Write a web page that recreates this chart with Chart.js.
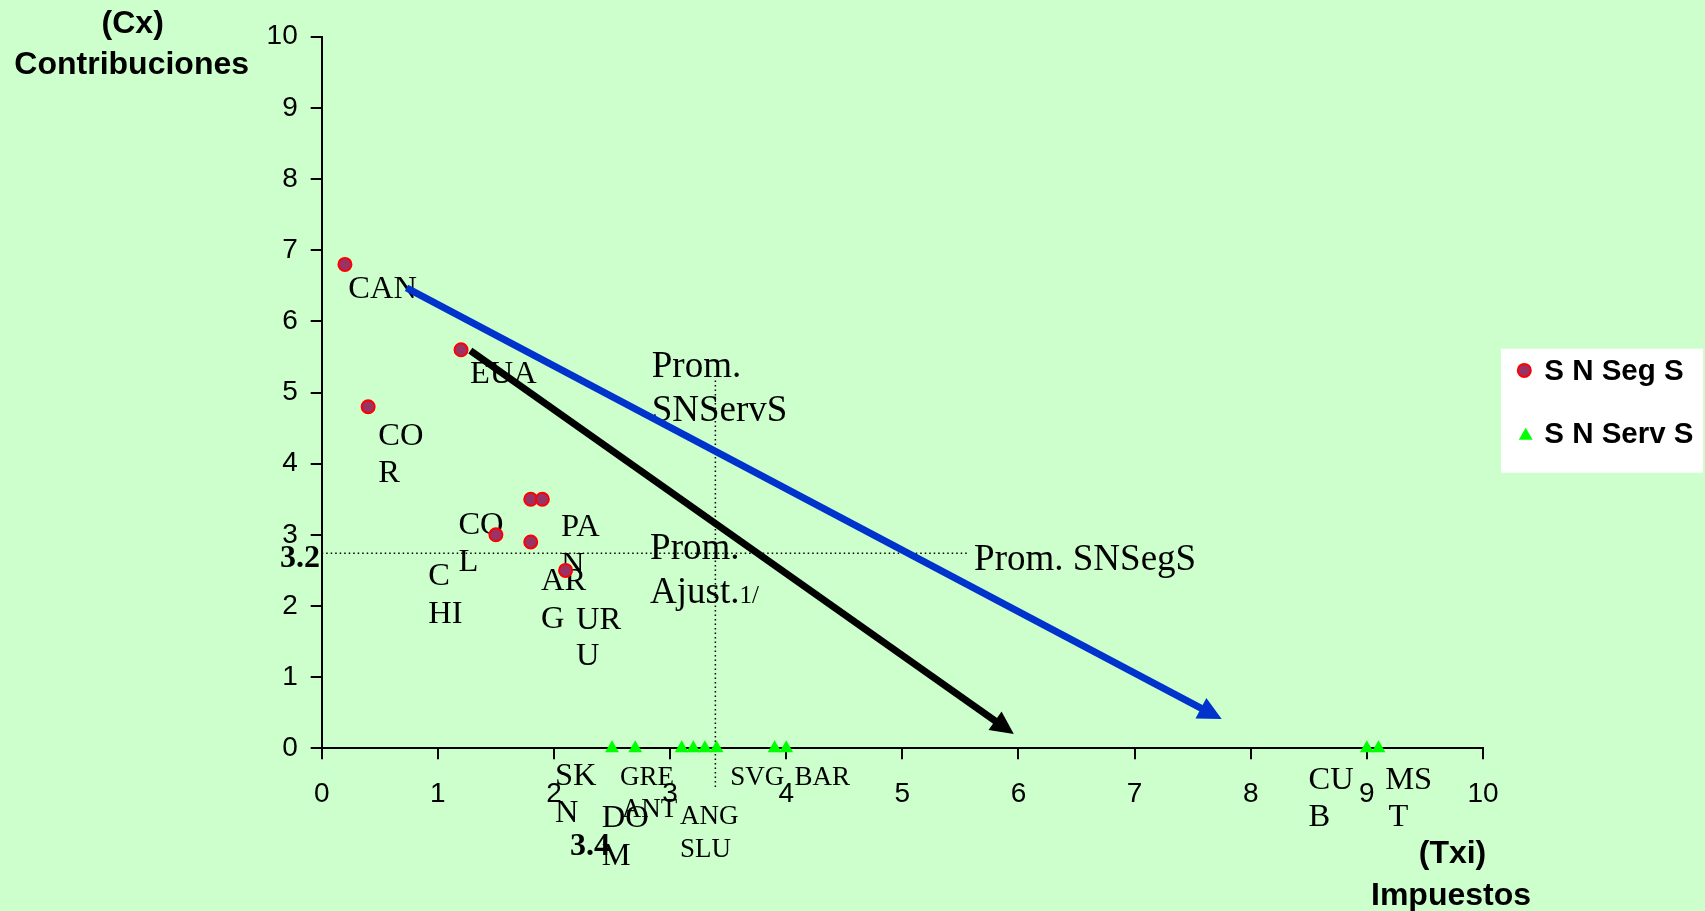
<!DOCTYPE html>
<html><head><meta charset="utf-8">
<script src="https://cdn.jsdelivr.net/npm/chart.js@4.4.1/dist/chart.umd.min.js"></script>
<style>html,body{margin:0;padding:0;background:#CCFFCC;overflow:hidden}#wrap{width:1705px;height:911px}</style>
</head><body><div id="wrap"><canvas id="c" width="1705" height="911"></canvas></div>
<script>
// ---------- data ----------
const seriesNames = ['S N Seg S', 'S N Serv S'];
const segCountries = ['CAN', 'EUA', 'COR', 'COL', 'PAN', 'CHI', 'ARG', 'URU'];
const segX = [0.2, 1.2, 0.4, 1.5, 1.8, 1.9, 1.8, 2.1];
const segY = [6.8, 5.6, 4.8, 3.0, 3.5, 3.5, 2.9, 2.5];
const servCountries = ['SKN', 'GRE', 'ANT', 'DOM', 'ANG', 'SLU', 'SVG', 'BAR', 'CUB', 'MST'];
const servX = [2.5, 2.7, 3.1, 3.2, 3.3, 3.4, 3.9, 4.0, 9.0, 9.1];
const servY = [0, 0, 0, 0, 0, 0, 0, 0, 0, 0];
const xTickValues = [0, 1, 2, 3, 4, 5, 6, 7, 8, 9, 10];
const yTickValues = [0, 1, 2, 3, 4, 5, 6, 7, 8, 9, 10];
// average reference lines (as drawn) and their printed labels
const promServX = 3.39, promServLabel = '3.4';
const promSegY = 2.74, promSegLabel = '3.2';
const promServYRange = [5.17, -0.58];
const promSegXRange = [0, 5.58];
// trend arrows (start -> tip)
const blueArrowX = [0.73, 7.75], blueArrowY = [6.47, 0.41];
const blackArrowX = [1.28, 5.96], blackArrowY = [5.59, 0.20];
const axisTitleY = ['(Cx)', 'Contribuciones'];
const axisTitleX = ['(Txi)', 'Impuestos'];

// ---------- annotation layout (data coordinates, left/baseline) ----------
const SERIF = '"Liberation Serif", "Times New Roman", serif';
const SANS = '"Liberation Sans", Arial, sans-serif';
const textNotes = [
  {lines: ['CAN'], x: 0.229, y: 6.334, size: 32.5},
  {lines: ['EUA'], x: 1.277, y: 5.128, size: 32.5},
  {lines: ['CO', 'R'], x: 0.4875, y: 4.268, size: 32.5, lh: 37.6},
  {lines: ['CO', 'L'], x: 1.177, y: 3.015, size: 32.5, lh: 37.4},
  {lines: ['C', 'HI'], x: 0.918, y: 2.29, size: 32.5, lh: 37.6},
  {lines: ['PA', 'N'], x: 2.061, y: 2.978, size: 32.5, lh: 37.4},
  {lines: ['AR', 'G'], x: 1.889, y: 2.22, size: 32.5, lh: 38},
  {lines: ['UR', 'U'], x: 2.19, y: 1.683, size: 32.5, lh: 36.8},
  {lines: ['Prom.', 'SNServS'], x: 2.842, y: 5.212, size: 37, lh: 44},
  {lines: ['Prom.', 'Ajust.'], x: 2.828, y: 2.665, size: 37, lh: 44.4, tail: '1/', tailSize: 25},
  {lines: ['Prom. SNSegS'], x: 5.618, y: 2.501, size: 37},
  {lines: ['SK', 'N'], x: 2.009, y: -0.515, size: 32.5, lh: 36.7},
  {lines: ['GRE'], x: 2.569, y: -0.515, size: 27},
  {lines: ['ANT'], x: 2.584, y: -0.959, size: 27},
  {lines: ['DO', 'M'], x: 2.412, y: -1.10, size: 32.5, lh: 38.3},
  {lines: ['ANG', 'SLU'], x: 3.086, y: -1.062, size: 27, lh: 32.7},
  {lines: ['SVG'], x: 3.517, y: -0.515, size: 27},
  {lines: ['BAR'], x: 4.071, y: -0.515, size: 27},
  {lines: ['CU', 'B'], x: 8.498, y: -0.575, size: 32.5, lh: 36.7},
  {lines: ['MS'], x: 9.158, y: -0.575, size: 32.5},
  {lines: ['T'], x: 9.187, y: -1.09, size: 32.5},
  {lines: [promServLabel], x: 2.139, y: -1.497, size: 32, bold: true},
  {lines: [promSegLabel], x: -0.015, y: 2.547, size: 32, bold: true, align: 'right'}
];

// ---------- plugins ----------
const arrowPlugin = {
  id: 'arrows',
  afterDatasetsUpdate(chart) {
    chart.data.datasets.forEach((ds, i) => {
      if (!ds.arrowHead) return;
      const meta = chart.getDatasetMeta(i);
      const xs = chart.scales.x, ys = chart.scales.y;
      const d = ds.data;
      const x0 = xs.getPixelForValue(d[0].x), y0 = ys.getPixelForValue(d[0].y);
      const x1 = xs.getPixelForValue(d[1].x), y1 = ys.getPixelForValue(d[1].y);
      const L = Math.hypot(x1 - x0, y1 - y0);
      const ux = (x1 - x0) / L, uy = (y1 - y0) / L;
      const back = ds.arrowHead.len * 0.75;
      meta.data[1].x = x1 - ux * back;
      meta.data[1].y = y1 - uy * back;
    });
  },
  afterDatasetsDraw(chart) {
    const ctx = chart.ctx;
    chart.data.datasets.forEach((ds) => {
      if (!ds.arrowHead) return;
      const xs = chart.scales.x, ys = chart.scales.y;
      const d = ds.data;
      const x0 = xs.getPixelForValue(d[0].x), y0 = ys.getPixelForValue(d[0].y);
      const x1 = xs.getPixelForValue(d[1].x), y1 = ys.getPixelForValue(d[1].y);
      const L = Math.hypot(x1 - x0, y1 - y0);
      const ux = (x1 - x0) / L, uy = (y1 - y0) / L;
      const len = ds.arrowHead.len, hw = ds.arrowHead.hw;
      const bx = x1 - ux * len, by = y1 - uy * len;
      ctx.save();
      ctx.fillStyle = ds.borderColor;
      ctx.beginPath();
      ctx.moveTo(x1, y1);
      ctx.lineTo(bx - uy * hw, by + ux * hw);
      ctx.lineTo(bx + uy * hw, by - ux * hw);
      ctx.closePath();
      ctx.fill();
      ctx.restore();
    });
  }
};

const textPlugin = {
  id: 'texts',
  beforeDatasetsDraw(chart) {
    const ctx = chart.ctx;
    const xs = chart.scales.x, ys = chart.scales.y;
    ctx.save();
    ctx.fillStyle = '#000';
    ctx.textBaseline = 'alphabetic';
    textNotes.forEach(n => {
      const px = xs.getPixelForValue(n.x), py = ys.getPixelForValue(n.y);
      ctx.font = (n.bold ? 'bold ' : '') + n.size + 'px ' + SERIF;
      ctx.textAlign = n.align || 'left';
      n.lines.forEach((t, k) => {
        const yy = py + k * (n.lh || n.size * 1.2);
        ctx.fillText(t, px, yy);
        if (n.tail && k === n.lines.length - 1) {
          const w = ctx.measureText(t).width;
          ctx.font = n.tailSize + 'px ' + SERIF;
          ctx.fillText(n.tail, px + w, yy);
          ctx.font = (n.bold ? 'bold ' : '') + n.size + 'px ' + SERIF;
        }
      });
    });
    // axis titles
    ctx.font = 'bold 32px ' + SANS;
    ctx.textAlign = 'center';
    const ca = chart.chartArea;
    ctx.fillText(axisTitleY[0], ca.left - 189, ca.top - 3.4);
    ctx.fillText(axisTitleY[1], ca.left - 190, ca.top + 37.3);
    ctx.fillText(axisTitleX[0], ca.right - 30.5, ca.bottom + 115);
    ctx.fillText(axisTitleX[1], ca.right - 32, ca.bottom + 156.7);
    ctx.restore();
  }
};

const legendPlugin = {
  id: 'customLegend',
  afterDraw(chart) {
    const ctx = chart.ctx;
    const ca = chart.chartArea;
    const left = ca.right + 18, top = ca.top + 312, w = 202, h = 124;
    ctx.save();
    ctx.fillStyle = '#FFFFFF';
    ctx.fillRect(left, top, w, h);
    const ds0 = chart.data.datasets[0], ds1 = chart.data.datasets[1];
    // circle
    ctx.beginPath();
    ctx.arc(left + 23.3, top + 21.7, 6.5, 0, Math.PI * 2);
    ctx.fillStyle = ds0.pointBackgroundColor;
    ctx.fill();
    ctx.lineWidth = ds0.pointBorderWidth;
    ctx.strokeStyle = ds0.pointBorderColor;
    ctx.stroke();
    // triangle
    const tx = left + 24.7, ty = top + 87, r = 8;
    ctx.beginPath();
    ctx.moveTo(tx, ty - r);
    ctx.lineTo(tx + r * 0.866, ty + r / 2);
    ctx.lineTo(tx - r * 0.866, ty + r / 2);
    ctx.closePath();
    ctx.fillStyle = ds1.pointBackgroundColor;
    ctx.fill();
    ctx.fillStyle = '#000';
    ctx.font = 'bold 29.5px ' + SANS;
    ctx.textAlign = 'left';
    ctx.textBaseline = 'alphabetic';
    ctx.fillText(ds0.label, left + 43.3, top + 31.7);
    ctx.fillText(ds1.label, left + 43.3, top + 94.3);
    ctx.restore();
  }
};

const bgPlugin = {
  id: 'bg',
  beforeDraw(chart) {
    const ctx = chart.ctx;
    ctx.save();
    ctx.fillStyle = '#CCFFCC';
    ctx.fillRect(0, 0, chart.width, chart.height);
    ctx.restore();
  }
};

// ---------- chart ----------
Chart.defaults.font.family = SANS;
const pts = (xs, ys) => xs.map((x, i) => ({x: x, y: ys[i]}));

new Chart(document.getElementById('c'), {
  type: 'scatter',
  data: {
    datasets: [
      {label: seriesNames[0], data: pts(segX, segY), pointStyle: 'circle', pointRadius: 6.5,
       pointBackgroundColor: '#993366', pointBorderColor: '#FF0000', pointBorderWidth: 2, clip: false},
      {label: seriesNames[1], data: pts(servX, servY), pointStyle: 'triangle', pointRadius: 8,
       pointBackgroundColor: '#00FF00', pointBorderColor: '#00FF00', pointBorderWidth: 0, clip: false},
      {type: 'line', label: 'tendencia SNServS', data: pts(blueArrowX, blueArrowY), borderColor: '#0033CC',
       borderWidth: 7, pointRadius: 0, borderCapStyle: 'butt', clip: false, arrowHead: {len: 23.5, hw: 11.6}},
      {type: 'line', label: 'tendencia ajustada', data: pts(blackArrowX, blackArrowY), borderColor: '#000000',
       borderWidth: 7, pointRadius: 0, borderCapStyle: 'butt', clip: false, arrowHead: {len: 23, hw: 11.3}},
      {type: 'line', label: 'Prom. SNServS', data: pts([promServX, promServX], promServYRange), borderColor: '#000',
       borderWidth: 1.5, borderDash: [1.5, 3], pointRadius: 0, clip: false},
      {type: 'line', label: 'Prom. SNSegS', data: pts(promSegXRange, [promSegY, promSegY]), borderColor: '#000',
       borderWidth: 1.5, borderDash: [1.5, 3], pointRadius: 0, clip: false}
    ]
  },
  options: {
    responsive: false,
    animation: false,
    events: [],
    devicePixelRatio: 1,
    layout: {padding: {left: 201.7, top: 36.7, right: 222, bottom: 102.7}},
    plugins: {legend: {display: false}, tooltip: {enabled: false}},
    scales: {
      x: {
        type: 'linear', min: 0, max: 10,
        afterBuildTicks(s) { s.ticks = xTickValues.map(v => ({value: v})); },
        afterFit(s) { s.height = 60; },
        ticks: {font: {size: 28}, color: '#000', padding: 18, maxRotation: 0, autoSkip: false},
        grid: {drawOnChartArea: false, drawTicks: true, tickLength: 11, tickColor: '#000', lineWidth: 2},
        border: {color: '#000', width: 2}
      },
      y: {
        type: 'linear', min: 0, max: 10,
        afterBuildTicks(s) { s.ticks = yTickValues.map(v => ({value: v})); },
        afterFit(s) { s.width = 120; },
        ticks: {font: {size: 28}, color: '#000', padding: 13, autoSkip: false},
        grid: {drawOnChartArea: false, drawTicks: true, tickLength: 11, tickColor: '#000', lineWidth: 2},
        border: {color: '#000', width: 2}
      }
    }
  },
  plugins: [bgPlugin, textPlugin, arrowPlugin, legendPlugin]
});
</script>
</body></html>
